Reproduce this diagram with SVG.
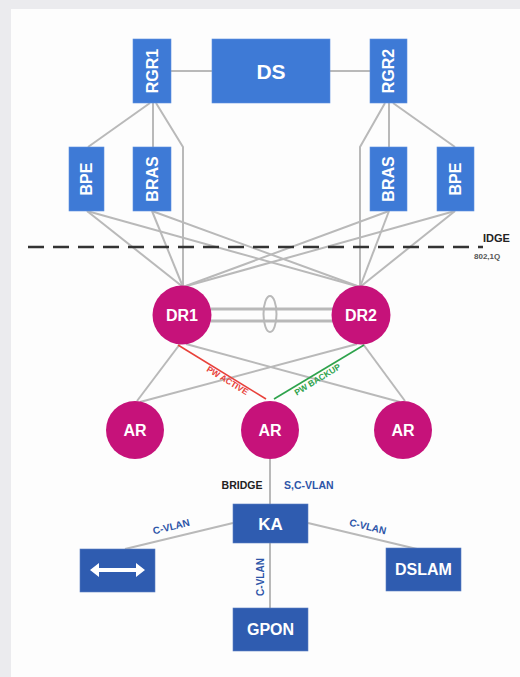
<svg xmlns="http://www.w3.org/2000/svg" width="520" height="677" viewBox="0 0 520 677">
  <style>
    .box-top { fill: #3e7ad6; stroke: #5f92e0; stroke-width: 0.6; }
    .box-low { fill: #2f5cb0; stroke: #5a7fc4; stroke-width: 0.6; }
    .router { fill: #c6127a; }
    .lbl { font-family: "Liberation Sans", Arial, sans-serif; font-weight: bold; fill: #ffffff; text-anchor: middle; }
    .link { stroke: #b9b9b9; stroke-width: 2; fill: none; }
    .tag { font-family: "Liberation Sans", Arial, sans-serif; font-weight: bold; font-size: 10px; fill: #2d55a8; text-anchor: middle; }
  </style>

  <!-- page background and panel -->
  <rect x="0" y="0" width="520" height="677" fill="#ebebee"/>
  <rect x="11" y="9" width="509" height="668" fill="#fdfdfd"/>

  <!-- connectors -->
  <g id="connectors">
    <!-- core -->
    <line class="link" x1="171" y1="71" x2="212" y2="71"/>
    <line class="link" x1="330" y1="71" x2="370" y2="71"/>
    <!-- RGR1 fan-out -->
    <line class="link" x1="150" y1="103" x2="88" y2="147"/>
    <line class="link" x1="153" y1="103" x2="153" y2="147"/>
    <polyline class="link" points="156,103 183,147 183,287"/>
    <!-- RGR2 fan-out -->
    <line class="link" x1="389" y1="103" x2="389" y2="147"/>
    <line class="link" x1="393" y1="103" x2="455" y2="147"/>
    <polyline class="link" points="385,103 360,147 360,287"/>
    <!-- BPE / BRAS to DR -->
    <line class="link" x1="87" y1="211" x2="183" y2="287"/>
    <line class="link" x1="87" y1="211" x2="360" y2="287"/>
    <line class="link" x1="152" y1="211" x2="183" y2="287"/>
    <line class="link" x1="152" y1="211" x2="360" y2="287"/>
    <line class="link" x1="389" y1="211" x2="183" y2="287"/>
    <line class="link" x1="389" y1="211" x2="360" y2="287"/>
    <line class="link" x1="455" y1="211" x2="183" y2="287"/>
    <line class="link" x1="455" y1="211" x2="360" y2="287"/>
    <!-- DR1 - DR2 bundle -->
    <line x1="211" y1="309" x2="333" y2="309" stroke="#b9b9b9" stroke-width="3"/>
    <line x1="211" y1="321" x2="333" y2="321" stroke="#b9b9b9" stroke-width="3"/>
    <ellipse cx="270" cy="314" rx="6.5" ry="18" fill="none" stroke="#b9b9b9" stroke-width="2"/>
    <!-- DR to AR -->
    <line class="link" x1="180" y1="344" x2="137" y2="401"/>
    <line class="link" x1="186" y1="344" x2="400" y2="402"/>
    <line class="link" x1="357" y1="344" x2="140" y2="402"/>
    <line class="link" x1="363" y1="344" x2="405" y2="401"/>
    <line x1="178" y1="345" x2="266" y2="399" stroke="#e8413a" stroke-width="1.6"/>
    <line x1="364" y1="345" x2="274" y2="399" stroke="#2ea34c" stroke-width="1.6"/>
    <text transform="translate(226,383) rotate(31.5)" font-family="Liberation Sans, Arial, sans-serif" font-weight="bold" font-size="8.5" fill="#e8413a" text-anchor="middle">PW ACTIVE</text>
    <text transform="translate(319,382) rotate(-31.5)" font-family="Liberation Sans, Arial, sans-serif" font-weight="bold" font-size="8.5" fill="#2ea34c" text-anchor="middle">PW BACKUP</text>
    <!-- access -->
    <line class="link" x1="270" y1="459" x2="270" y2="504"/>
    <line class="link" x1="233" y1="523" x2="125" y2="549"/>
    <line class="link" x1="308" y1="523" x2="417" y2="549"/>
    <line class="link" x1="270" y1="543" x2="270" y2="608"/>
    <text x="242" y="489" font-family="Liberation Sans, Arial, sans-serif" font-weight="bold" font-size="10.5" fill="#222" text-anchor="middle">BRIDGE</text>
    <text x="284" y="489" class="tag" style="text-anchor:start; font-size:10.5px">S,C-VLAN</text>
    <text class="tag" transform="translate(172,530) rotate(-13.7)">C-VLAN</text>
    <text class="tag" transform="translate(367,530) rotate(13.7)">C-VLAN</text>
    <text class="tag" transform="translate(263.5,577) rotate(-90)">C-VLAN</text>
  </g>

  <!-- domain boundary -->
  <g id="boundary">
    <line x1="28" y1="247" x2="483" y2="247" stroke="#333" stroke-width="2.5" stroke-dasharray="16 9"/>
    <text x="483" y="242" font-family="Liberation Sans, Arial, sans-serif" font-weight="bold" font-size="11" fill="#222">IDGE</text>
    <text x="474" y="259" font-family="Liberation Sans, Arial, sans-serif" font-weight="bold" font-size="8" fill="#555">802,1Q</text>
  </g>

  <!-- nodes -->
  <g id="rgr1"><rect class="box-top" x="133" y="39" width="38" height="64"/><text class="lbl" font-size="16" transform="translate(152,71) rotate(-90)" dy="0.36em">RGR1</text></g>
  <g id="ds"><rect class="box-top" x="212" y="39" width="118" height="64"/><text class="lbl" font-size="21" x="271" y="71" dy="0.36em">DS</text></g>
  <g id="rgr2"><rect class="box-top" x="370" y="39" width="37" height="64"/><text class="lbl" font-size="16" transform="translate(388.5,71) rotate(-90)" dy="0.36em">RGR2</text></g>

  <g id="bpe1"><rect class="box-top" x="69" y="147" width="35" height="64"/><text class="lbl" font-size="16" transform="translate(86.5,179) rotate(-90)" dy="0.36em">BPE</text></g>
  <g id="bras1"><rect class="box-top" x="133" y="147" width="38" height="64"/><text class="lbl" font-size="16" transform="translate(152,179) rotate(-90)" dy="0.36em">BRAS</text></g>
  <g id="bras2"><rect class="box-top" x="370" y="147" width="37" height="64"/><text class="lbl" font-size="16" transform="translate(388.5,179) rotate(-90)" dy="0.36em">BRAS</text></g>
  <g id="bpe2"><rect class="box-top" x="437" y="147" width="37" height="64"/><text class="lbl" font-size="16" transform="translate(455.5,179) rotate(-90)" dy="0.36em">BPE</text></g>

  <g id="dr1"><circle class="router" cx="182" cy="315" r="29.5"/><text class="lbl" font-size="16" x="182" y="315" dy="0.36em">DR1</text></g>
  <g id="dr2"><circle class="router" cx="361" cy="315" r="29.5"/><text class="lbl" font-size="16" x="361" y="315" dy="0.36em">DR2</text></g>

  <g id="ar1"><circle class="router" cx="135" cy="430" r="29"/><text class="lbl" font-size="16" x="135" y="430" dy="0.36em">AR</text></g>
  <g id="ar2"><circle class="router" cx="270" cy="430" r="29"/><text class="lbl" font-size="16" x="270" y="430" dy="0.36em">AR</text></g>
  <g id="ar3"><circle class="router" cx="403" cy="430" r="29"/><text class="lbl" font-size="16" x="403" y="430" dy="0.36em">AR</text></g>

  <g id="ka"><rect class="box-low" x="233" y="504" width="75" height="39"/><text class="lbl" font-size="17" x="270.5" y="523.5" dy="0.36em">KA</text></g>
  <g id="switch"><rect class="box-low" x="80" y="549" width="75" height="43"/><path d="M90,570 L99,563 L99,568 L136,568 L136,563 L145,570 L136,577 L136,572 L99,572 L99,577 Z" fill="#ffffff"/></g>
  <g id="dslam"><rect class="box-low" x="386" y="548" width="75" height="43"/><text class="lbl" font-size="16" x="423.5" y="569.5" dy="0.36em">DSLAM</text></g>
  <g id="gpon"><rect class="box-low" x="233" y="608" width="75" height="43"/><text class="lbl" font-size="16" x="270.5" y="629.5" dy="0.36em">GPON</text></g>
</svg>
